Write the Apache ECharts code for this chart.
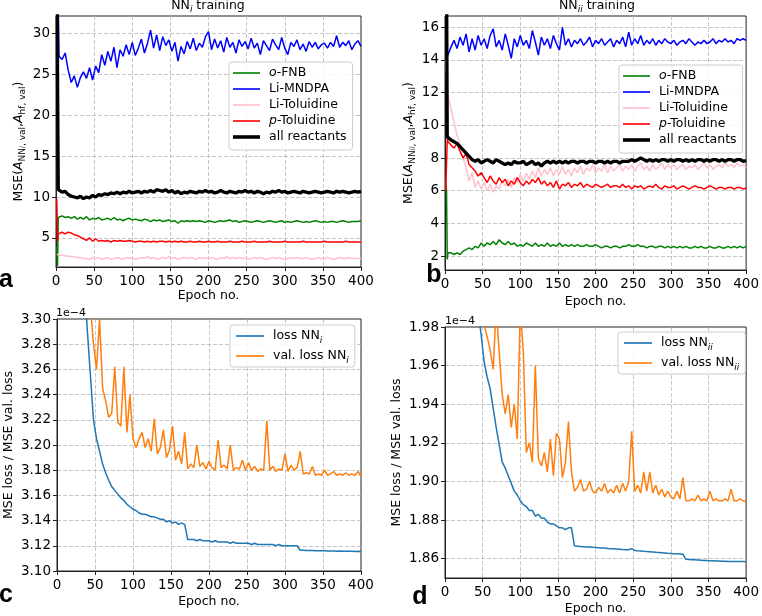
<!DOCTYPE html>
<html><head><meta charset="utf-8">
<script src="https://cdn.jsdelivr.net/npm/echarts@6/dist/echarts.min.js"></script>
<style>html,body{margin:0;padding:0;background:#fff}#c{width:762px;height:616px}</style>
</head><body><div id="c"></div>
<script>
// epochs: 1,2,3 then every 4th epoch up to 400
const epochs = [1, 2, 3];
for (let e = 4; e <= 400; e += 4) epochs.push(e);

// ---- panel a (NN_i training) ----
const aBlue = [60, 45, 33,
 27.2, 26.8, 27.6, 25.5, 24.0, 24.8, 23.4, 24.6, 25.3, 24.5,
 25.8, 24.3, 26.0, 25.2, 27.4, 26.1, 27.8, 26.6, 28.3, 25.8,
 28.0, 27.2, 28.6, 27.4, 28.9, 27.3, 28.2, 29.3, 27.6, 28.8,
 30.4, 28.2, 29.8, 27.9, 29.6, 28.5, 29.2, 27.8, 28.9, 26.6,
 28.4, 27.5, 29.0, 28.1, 29.4, 27.9, 28.8, 28.3, 29.6, 30.2,
 28.0, 29.3, 28.2, 29.1, 27.7, 29.5, 28.3, 28.9, 27.6, 29.2,
 28.4, 29.0, 28.1, 29.4, 28.2, 28.8, 27.4, 29.1, 28.5, 27.9,
 29.3, 28.6, 28.0, 29.5, 28.2, 27.4, 28.9, 28.4, 29.2, 28.0,
 28.7, 27.8, 29.0, 28.3, 28.9, 28.1, 28.6, 28.8, 28.2, 28.9,
 28.4, 29.7, 28.3, 28.9, 28.5, 29.1, 28.0, 28.7, 29.1, 28.4];
const aBlack = [60, 25, 10.9,
 10.9, 10.6, 10.7, 10.3, 10.1, 10.0, 9.9, 10.1, 9.8, 10.0,
 9.9, 10.2, 10.0, 10.3, 10.2, 10.4, 10.3, 10.5, 10.4, 10.6,
 10.4, 10.6, 10.5, 10.7, 10.5, 10.6, 10.7, 10.5, 10.7, 10.6,
 10.8, 10.6, 10.9, 10.8, 10.7, 10.9, 10.6, 10.8, 10.5, 10.7,
 10.4, 10.6, 10.5, 10.7, 10.6, 10.5, 10.7, 10.6, 10.8, 10.6,
 10.7, 10.5, 10.6, 10.8, 10.6, 10.5, 10.7, 10.6, 10.5, 10.7,
 10.6, 10.8, 10.6, 10.7, 10.5, 10.7, 10.6, 10.4, 10.6, 10.5,
 10.7, 10.6, 10.8, 10.6, 10.7, 10.5, 10.6, 10.7, 10.6, 10.5,
 10.7, 10.6, 10.5, 10.6, 10.7, 10.6, 10.5, 10.6, 10.7, 10.6,
 10.5, 10.7, 10.6, 10.7, 10.6, 10.5, 10.6, 10.7, 10.6, 10.7];
const aGreen = [4.0, 1.6, 7.5,
 7.6, 7.7, 7.5, 7.6, 7.4, 7.6, 7.3, 7.5, 7.3, 7.6,
 7.2, 7.4, 7.3, 7.5, 7.2, 7.3, 7.4, 7.2, 7.5, 7.2,
 7.3, 7.1, 7.3, 7.4, 7.2, 7.3, 7.2, 7.1, 7.3, 7.2,
 7.0, 7.2, 7.1, 7.2, 7.0, 7.1, 7.2, 7.0, 7.1, 6.8,
 7.1, 7.0, 7.1, 7.0, 7.1, 7.0, 7.1, 7.0, 6.9, 7.1,
 7.0, 6.9, 7.0, 7.1, 7.0, 7.1, 7.2, 7.0, 7.1, 6.9,
 7.0, 7.1, 7.0, 6.9, 7.0, 7.1, 7.0, 6.9, 7.0, 7.1,
 7.0, 6.9, 7.0, 7.1, 6.9, 7.0, 6.9, 7.0, 7.1, 7.0,
 6.9, 7.0, 6.9, 7.0, 7.1, 7.0, 6.9, 7.0, 6.9, 7.0,
 7.0, 6.9, 7.0, 7.1, 7.0, 6.9, 7.0, 7.0, 7.0, 7.1];
const aRed = [9.8, 4.6, 5.5,
 5.6, 5.7, 5.5, 5.7, 5.6, 5.4, 5.3, 5.1, 4.9, 4.7,
 5.0, 4.6, 4.9, 4.6, 4.7, 4.6, 4.7, 4.5, 4.7, 4.6,
 4.7, 4.6, 4.6, 4.7, 4.6, 4.5, 4.6, 4.6, 4.5, 4.6,
 4.5, 4.6, 4.5, 4.6, 4.6, 4.5, 4.6, 4.5, 4.6, 4.5,
 4.6, 4.5, 4.5, 4.6, 4.5, 4.5, 4.6, 4.5, 4.5, 4.6,
 4.5, 4.5, 4.6, 4.5, 4.5, 4.5, 4.6, 4.5, 4.5, 4.5,
 4.6, 4.5, 4.5, 4.5, 4.6, 4.5, 4.5, 4.5, 4.5, 4.6,
 4.5, 4.5, 4.5, 4.5, 4.6, 4.5, 4.5, 4.5, 4.5, 4.5,
 4.6, 4.5, 4.5, 4.5, 4.5, 4.5, 4.5, 4.6, 4.5, 4.5,
 4.5, 4.5, 4.5, 4.5, 4.6, 4.5, 4.5, 4.5, 4.5, 4.5];
const aPink = [3.0, 2.8, 2.9,
 2.9, 2.9, 2.8, 2.8, 2.7, 2.7, 2.6, 2.6, 2.5, 2.5,
 2.4, 2.6, 2.5, 2.6, 2.4, 2.5, 2.6, 2.4, 2.5, 2.6,
 2.5, 2.4, 2.6, 2.5, 2.6, 2.4, 2.5, 2.6, 2.5, 2.7,
 2.5, 2.6, 2.4, 2.5, 2.6, 2.5, 2.7, 2.5, 2.6, 2.4,
 2.5, 2.6, 2.5, 2.6, 2.5, 2.4, 2.6, 2.5, 2.6, 2.5,
 2.6, 2.5, 2.4, 2.6, 2.5, 2.7, 2.5, 2.6, 2.5, 2.6,
 2.5, 2.6, 2.4, 2.5, 2.6, 2.5, 2.6, 2.5, 2.4, 2.5,
 2.6, 2.5, 2.6, 2.5, 2.4, 2.5, 2.6, 2.5, 2.6, 2.5,
 2.5, 2.6, 2.5, 2.4, 2.5, 2.6, 2.5, 2.5, 2.6, 2.5,
 2.4, 2.5, 2.6, 2.5, 2.5, 2.6, 2.5, 2.5, 2.5, 2.5];

// ---- panel b (NN_ii training) ----
const bBlue = [30, 20, 14.2,
 14.3, 14.8, 15.2, 14.7, 15.4, 14.9, 15.6, 14.5, 15.3, 14.6,
 15.5, 14.9, 15.3, 14.7, 15.5, 15.9, 14.8, 15.2, 14.6, 15.6,
 14.9, 14.1, 15.3, 14.8, 15.5, 14.9, 15.2, 14.7, 15.8, 15.1,
 14.3, 15.4, 14.9, 15.3, 14.7, 15.5, 15.0, 14.6, 16.0, 14.9,
 15.3, 14.8, 15.2, 15.0, 15.3, 14.9, 15.1, 15.4, 14.8, 15.2,
 15.0, 15.3, 14.9, 15.1, 15.3, 14.8, 15.2, 15.0, 15.4, 14.8,
 15.7, 14.9, 15.3, 15.0, 15.5, 14.9, 15.2, 15.0, 15.3, 14.9,
 15.2, 15.0, 15.3, 15.1, 15.0, 15.2, 14.9, 15.1, 15.2, 15.0,
 15.3, 15.1, 14.9, 15.1, 15.0, 15.2, 15.0, 15.1, 15.3, 15.0,
 15.2, 15.1, 15.3, 15.1, 15.2, 15.0, 15.3, 15.2, 15.3, 15.2];
const bBlack = [30, 20, 9.3,
 9.3, 9.1, 9.0, 8.9, 8.7, 8.5, 8.3, 8.1, 7.9, 7.8,
 7.9, 7.7, 7.8, 7.9, 7.8, 7.7, 7.9, 7.8, 7.7, 7.6,
 7.7, 7.6, 7.8, 7.7, 7.7, 7.8, 7.6, 7.7, 7.8, 7.6,
 7.7, 7.5, 7.7, 7.8, 7.7, 7.8, 7.7, 7.8, 7.7, 7.8,
 7.7, 7.8, 7.8, 7.7, 7.8, 7.8, 7.7, 7.8, 7.8, 7.7,
 7.8, 7.8, 7.7, 7.8, 7.7, 7.8, 7.8, 7.7, 7.8, 7.8,
 7.8, 7.9, 7.8, 7.9, 8.0, 7.9, 7.8, 7.9, 7.8, 7.9,
 7.8, 7.9, 7.9, 7.8, 7.9, 7.8, 7.9, 7.9, 7.8, 7.9,
 7.8, 7.9, 7.8, 7.9, 7.9, 7.8, 7.9, 7.8, 7.9, 7.9,
 7.8, 7.9, 7.8, 7.9, 7.9, 7.8, 7.9, 7.9, 7.8, 7.85];
const bRed = [6.0, 6.1, 9.2,
 9.0, 8.8, 8.6, 8.9, 8.4, 8.0, 8.3, 7.6, 7.4, 7.2,
 6.9, 7.1, 6.8, 6.5, 6.9, 6.6, 6.4, 6.8, 6.5, 6.7,
 6.3, 6.6, 6.4, 6.8, 6.5, 6.3, 6.6, 6.4, 6.7, 6.5,
 6.8, 6.4, 6.6, 6.3, 6.5, 6.2, 6.6, 6.1, 6.4, 6.3,
 6.5, 6.2, 6.4, 6.3, 6.5, 6.2, 6.4, 6.3, 6.2, 6.4,
 6.3, 6.2, 6.3, 6.4, 6.2, 6.3, 6.3, 6.2, 6.4, 6.2,
 6.3, 6.1, 6.3, 6.2, 6.3, 6.1, 6.2, 6.3, 6.2, 6.4,
 6.2, 6.1, 6.3, 6.2, 6.2, 6.3, 6.1, 6.2, 6.3, 6.2,
 6.1, 6.2, 6.3, 6.2, 6.2, 6.1, 6.2, 6.3, 6.2, 6.1,
 6.2, 6.2, 6.1, 6.2, 6.2, 6.1, 6.2, 6.2, 6.1, 6.15];
const bPink = [14, 13, 12.2,
 11.8, 11.0, 10.2, 9.4, 8.8, 8.0, 7.4, 6.6, 7.1, 6.2,
 6.6, 6.1, 6.5, 6.0, 6.4, 5.9, 6.3, 6.1, 6.6, 6.3,
 6.7, 6.2, 6.8, 6.5, 7.0, 6.6, 7.1, 6.7, 7.2, 6.8,
 7.4, 6.9, 7.3, 7.0, 7.4, 6.9, 7.3, 7.0, 7.5, 7.0,
 7.3, 6.9, 7.4, 7.1, 7.5, 7.0, 7.4, 7.2, 7.6, 7.1,
 7.4, 7.2, 7.6, 7.1, 7.5, 7.2, 7.4, 7.6, 7.2, 7.5,
 7.3, 7.6, 7.2, 7.5, 7.7, 7.3, 7.5, 7.2, 7.6, 7.3,
 7.5, 7.7, 7.3, 7.6, 7.4, 7.6, 7.3, 7.5, 7.6, 7.3,
 7.5, 7.4, 7.6, 7.3, 7.5, 7.7, 7.4, 7.6, 7.3, 7.5,
 7.6, 7.4, 7.7, 7.5, 7.6, 7.4, 7.7, 7.5, 7.6, 7.4];
const bGreen = [6.5, 6.0, 1.8,
 2.2, 2.2, 2.1, 2.2, 2.1, 2.3, 2.4, 2.5, 2.4, 2.6,
 2.5, 2.8, 2.6, 2.8, 2.7, 2.9, 2.7, 3.0, 2.8, 2.7,
 2.9, 2.7, 2.8, 2.6, 2.7, 2.6, 2.8, 2.7, 2.6, 2.8,
 2.6, 2.7, 2.6, 2.8, 2.6, 2.7, 2.6, 2.8, 2.6, 2.7,
 2.6, 2.7, 2.6, 2.7, 2.6, 2.6, 2.7, 2.6, 2.6, 2.7,
 2.6, 2.5, 2.6, 2.6, 2.5, 2.6, 2.6, 2.5, 2.6, 2.6,
 2.7, 2.6, 2.6, 2.7, 2.6, 2.6, 2.5, 2.6, 2.6, 2.5,
 2.6, 2.6, 2.5, 2.6, 2.5, 2.6, 2.5, 2.6, 2.5, 2.6,
 2.5, 2.5, 2.6, 2.5, 2.6, 2.5, 2.5, 2.6, 2.5, 2.5,
 2.6, 2.5, 2.5, 2.6, 2.5, 2.6, 2.5, 2.6, 2.5, 2.6];

// ---- panel c (loss NN_i, units of 1e-4) ----
const cLoss = [6.0, 5.5, 5.2,
 5.0, 4.2, 3.9, 3.7, 3.58, 3.5, 3.43, 3.38, 3.33, 3.29,
 3.255, 3.22, 3.205, 3.195, 3.185, 3.178, 3.172, 3.167, 3.164, 3.161,
 3.158, 3.156, 3.153, 3.151, 3.149, 3.148, 3.146, 3.145, 3.145, 3.144,
 3.143, 3.143, 3.142, 3.141, 3.141, 3.139, 3.140, 3.138, 3.139, 3.137,
 3.138, 3.137, 3.125, 3.125, 3.125, 3.124, 3.125, 3.124, 3.124, 3.124,
 3.123, 3.124, 3.123, 3.123, 3.123, 3.123, 3.122, 3.123, 3.122, 3.122,
 3.122, 3.122, 3.122, 3.121, 3.122, 3.121, 3.121, 3.121, 3.121, 3.121,
 3.121, 3.120, 3.121, 3.120, 3.120, 3.120, 3.120, 3.120, 3.120, 3.1165,
 3.1165, 3.1163, 3.1162, 3.1162, 3.116, 3.116, 3.1161, 3.116, 3.1159, 3.1158,
 3.1158, 3.1157, 3.1158, 3.1157, 3.1156, 3.1157, 3.1156, 3.1155, 3.1156, 3.1155];
const cVal = [6.5, 6.0, 5.6,
 5.3, 4.6, 4.2, 3.95, 3.8, 3.68, 3.58, 3.5, 3.42, 3.36,
 3.31, 3.28, 3.26, 3.30, 3.245, 3.235, 3.222, 3.225, 3.262, 3.218,
 3.215, 3.262, 3.21, 3.24, 3.205, 3.198, 3.205, 3.21, 3.198, 3.205,
 3.195, 3.221, 3.193, 3.198, 3.212, 3.19, 3.196, 3.215, 3.188, 3.195,
 3.185, 3.21, 3.181, 3.185, 3.182, 3.20, 3.183, 3.186, 3.181, 3.187,
 3.182, 3.180, 3.204, 3.182, 3.184, 3.181, 3.20, 3.180, 3.182, 3.181,
 3.188, 3.180, 3.186, 3.180, 3.183, 3.179, 3.181, 3.180, 3.219, 3.180,
 3.183, 3.179, 3.181, 3.180, 3.193, 3.179, 3.184, 3.180, 3.182, 3.195,
 3.177, 3.178, 3.177, 3.183, 3.176, 3.177, 3.176, 3.180, 3.176, 3.177,
 3.179, 3.176, 3.177, 3.176, 3.178, 3.176, 3.177, 3.176, 3.179, 3.175];

// ---- panel d (loss NN_ii, units of 1e-4) ----
const dLoss = [3.0, 2.8, 2.6,
 2.5, 2.3, 2.2, 2.15, 2.1, 2.07, 2.05, 2.03, 2.01, 1.998,
 1.988, 1.976, 1.962, 1.954, 1.948, 1.938, 1.928, 1.919, 1.91, 1.907,
 1.903, 1.899, 1.895, 1.893, 1.89, 1.888, 1.887, 1.885, 1.885, 1.882,
 1.883, 1.881, 1.881, 1.879, 1.878, 1.878, 1.877, 1.876, 1.876, 1.875,
 1.876, 1.876, 1.8667, 1.8665, 1.8663, 1.8662, 1.866, 1.8661, 1.8659, 1.8658,
 1.8657, 1.8656, 1.8655, 1.8653, 1.8652, 1.8651, 1.865, 1.8649, 1.8647, 1.8646,
 1.8646, 1.8652, 1.8643, 1.8641, 1.864, 1.8638, 1.8637, 1.8636, 1.8635, 1.8633,
 1.8632, 1.8631, 1.863, 1.8628, 1.8627, 1.8626, 1.8625, 1.8624, 1.8623, 1.8597,
 1.8596, 1.8595, 1.8594, 1.8593, 1.8592, 1.8591, 1.859, 1.8589, 1.8589, 1.8588,
 1.8588, 1.8587, 1.8587, 1.8586, 1.8586, 1.8586, 1.8585, 1.8585, 1.8585, 1.8584];
const dVal = [3.2, 3.0, 2.8,
 2.6, 2.45, 2.35, 2.28, 2.2, 2.15, 2.1, 2.07, 2.04, 2.02,
 2.0, 1.99, 1.981, 1.975, 1.968, 1.958, 1.99, 1.967, 1.945, 1.935,
 1.945, 1.928, 1.94, 1.922, 1.99, 1.967, 1.915, 1.92, 1.91, 1.96,
 1.912, 1.908, 1.915, 1.905, 1.922, 1.903, 1.925, 1.922, 1.902, 1.91,
 1.931, 1.905, 1.895, 1.897, 1.901, 1.895, 1.896, 1.90, 1.895, 1.894,
 1.897, 1.895, 1.899, 1.894, 1.896, 1.894, 1.898, 1.894, 1.899, 1.895,
 1.900, 1.926, 1.895, 1.898, 1.894, 1.905, 1.895, 1.905, 1.894, 1.898,
 1.893, 1.896, 1.892, 1.895, 1.892, 1.891, 1.895, 1.891, 1.902, 1.890,
 1.890, 1.891, 1.890, 1.893, 1.890, 1.891, 1.890, 1.895, 1.890, 1.891,
 1.890, 1.890, 1.891, 1.890, 1.896, 1.890, 1.890, 1.891, 1.890, 1.8895];

const namesAB = ['o-FNB', 'Li-MNDPA', 'Li-Toluidine', 'p-Toluidine', 'all reactants'];
const colorsAB = ['#008000', '#0000ff', '#ffc0cb', '#ff0000', '#000000'];

const FF = 'DejaVu Sans';
const FS = 12.5;
const TFS = 13.5;

function pairs(x, y) { return x.map((e, i) => [e, y[i]]); }

function xAx(g, gap) {
  return {
    type: 'value', gridIndex: g, min: 0, max: 400, interval: 50,
    name: 'Epoch no.', nameLocation: 'middle', nameGap: gap,
    nameTextStyle: { fontFamily: FF, fontSize: FS, color: '#000' },
    axisLine: { show: true, onZero: false, lineStyle: { color: '#222', width: 1 } },
    axisTick: { show: true, length: 4, lineStyle: { color: '#222' } },
    axisLabel: { fontFamily: FF, fontSize: TFS, color: '#000', margin: 7 },
    splitLine: { show: true, showMinLine: false, showMaxLine: false,
      lineStyle: { color: '#b8b8b8', type: [4, 2], width: 0.8 } }
  };
}
const nameRich = {
  it: { fontFamily: FF, fontSize: FS, fontStyle: 'italic', lineHeight: 16, color: '#000' },
  sb: { fontFamily: FF, fontSize: 9, lineHeight: 9, verticalAlign: 'bottom', color: '#000' },
  si: { fontFamily: FF, fontSize: 7, lineHeight: 7, verticalAlign: 'bottom', fontStyle: 'italic', color: '#000' }
};
function yAx(g, o) {
  return Object.assign({
    type: 'value', gridIndex: g,
    nameLocation: 'middle', nameRotate: 90,
    nameTextStyle: { fontFamily: FF, fontSize: FS, color: '#000', lineHeight: 16, rich: nameRich },
    axisLine: { show: true, onZero: false, lineStyle: { color: '#222', width: 1 } },
    axisTick: { show: true, length: 4, lineStyle: { color: '#222' } },
    axisLabel: { fontFamily: FF, fontSize: TFS, color: '#000', margin: 6, showMinLabel: false, showMaxLabel: false },
    splitLine: { show: true, showMinLine: false, showMaxLine: false,
      lineStyle: { color: '#b8b8b8', type: [4, 2], width: 0.8 } }
  }, o);
}
function gridBox(l, t, w, h) {
  return { left: l, top: t, width: w, height: h, containLabel: false, show: true, borderColor: '#222', borderWidth: 1 };
}

const thin = 'path://M0,0H27V1.6H0Z';
const thick = 'path://M0,0H27V3.6H0Z';
const legRichAB = { i: { fontFamily: FF, fontSize: FS, fontStyle: 'italic', lineHeight: 16, color: '#000' } };
function legAB(l, t) {
  return {
    orient: 'vertical', left: l, top: t, itemWidth: 27, itemHeight: 8, itemGap: 0,
    symbolKeepAspect: true, selectedMode: false,
    padding: [3, 6, 5, 4], backgroundColor: 'rgba(255,255,255,0.85)',
    borderColor: '#cccccc', borderWidth: 1, borderRadius: 3,
    textStyle: { fontFamily: FF, fontSize: FS, color: '#000', lineHeight: 16, padding: [0, 0, 0, 4], rich: legRichAB },
    formatter: n => n === 'o-FNB' ? '{i|o}-FNB' : (n === 'p-Toluidine' ? '{i|p}-Toluidine' : n),
    data: namesAB.map((n, i) => ({ name: n, icon: i === 4 ? thick : thin, itemStyle: { color: colorsAB[i] } }))
  };
}
const legRichCD = { s: { fontFamily: FF, fontSize: 9, fontStyle: 'italic', lineHeight: 10, verticalAlign: 'bottom', color: '#000' } };
function legCD(l, t, names, sub) {
  return {
    orient: 'vertical', left: l, top: t, itemWidth: 28, itemHeight: 8, itemGap: 2,
    symbolKeepAspect: true, selectedMode: false,
    padding: [2, 6, 2, 6], backgroundColor: 'rgba(255,255,255,0.85)',
    borderColor: '#cccccc', borderWidth: 1, borderRadius: 3,
    textStyle: { fontFamily: FF, fontSize: FS, color: '#000', lineHeight: 18, padding: [0, 0, 0, 4], rich: legRichCD },
    formatter: n => n.replace(/NNi+$/, 'NN{s|' + sub + '}'),
    data: names.map((n, i) => ({ name: n, icon: thin, itemStyle: { color: i === 0 ? '#1f77b4' : '#ff7f0e' } }))
  };
}

const series = [];
const aY = [aGreen, aBlue, aPink, aRed, aBlack];
const bY = [bGreen, bBlue, bPink, bRed, bBlack];
aY.forEach((arr, i) => series.push({
  type: 'line', name: namesAB[i], xAxisIndex: 0, yAxisIndex: 0, data: pairs(epochs, arr),
  showSymbol: false, symbol: 'none', clip: true,
  lineStyle: { color: colorsAB[i], width: i === 4 ? 3.3 : 1.5 }, itemStyle: { color: colorsAB[i] }
}));
bY.forEach((arr, i) => series.push({
  type: 'line', name: namesAB[i], xAxisIndex: 1, yAxisIndex: 1, data: pairs(epochs, arr),
  showSymbol: false, symbol: 'none', clip: true,
  lineStyle: { color: colorsAB[i], width: i === 4 ? 3.3 : 1.5 }, itemStyle: { color: colorsAB[i] }
}));
[[cLoss, 'loss NNi', '#1f77b4', 2], [cVal, 'val. loss NNi', '#ff7f0e', 2],
 [dLoss, 'loss NNii', '#1f77b4', 3], [dVal, 'val. loss NNii', '#ff7f0e', 3]].forEach(s => series.push({
  type: 'line', name: s[1], xAxisIndex: s[3], yAxisIndex: s[3], data: pairs(epochs, s[0]),
  showSymbol: false, symbol: 'none', clip: true,
  lineStyle: { color: s[2], width: 1.5 }, itemStyle: { color: s[2] }
}));

const titleRich = {
  n: { fontFamily: FF, fontSize: FS, lineHeight: 16, fill: '#000' },
  s: { fontFamily: FF, fontSize: 9, lineHeight: 9, verticalAlign: 'bottom', fontStyle: 'italic', fill: '#000' }
};
function txt(x, y, text, font, align) {
  return { type: 'text', x: x, y: y, z: 100, style: { text: text, font: font, fill: '#000', align: align || 'center', verticalAlign: 'middle' } };
}

const option = {
  animation: false,
  grid: [gridBox(56, 16, 305, 251), gridBox(445, 16, 304, 254), gridBox(56, 319, 305, 252), gridBox(445, 327, 304, 251)],
  xAxis: [xAx(0, 22), xAx(1, 25), xAx(2, 24), xAx(3, 24)],
  yAxis: [
    yAx(0, { min: 1.45, max: 32.12, splitNumber: 5, nameGap: 29,
      name: 'MSE({it|A}{sb|NN}{si|i}{sb|, val},{it|A}{sb|hf, val})' }),
    yAx(1, { min: 1.15, max: 16.69, splitNumber: 7, nameGap: 28,
      name: 'MSE({it|A}{sb|NN}{si|ii}{sb|, val},{it|A}{sb|hf, val})' }),
    yAx(2, { min: 3.10, max: 3.30, interval: 0.02, nameGap: 40, name: 'MSE loss / MSE val. loss',
      axisLabel: { fontFamily: FF, fontSize: TFS, color: '#000', margin: 6, formatter: v => v.toFixed(2) } }),
    yAx(3, { min: 1.85, max: 1.98, splitNumber: 6, nameGap: 40, name: 'MSE loss / MSE val. loss',
      axisLabel: { fontFamily: FF, fontSize: TFS, color: '#000', margin: 6, showMinLabel: false, formatter: v => v.toFixed(2) } })
  ],
  legend: [
    legAB(229, 62), legAB(619, 65),
    legCD(230, 325, ['loss NNi', 'val. loss NNi'], 'i'),
    legCD(618, 332, ['loss NNii', 'val. loss NNii'], 'ii')
  ],
  series: series,
  graphic: [
    { type: 'text', x: 208, y: 6, z: 100, style: { text: '{n|NN}{s|i}{n| training}', rich: titleRich, align: 'center', verticalAlign: 'middle' } },
    { type: 'text', x: 597, y: 6, z: 100, style: { text: '{n|NN}{s|ii}{n| training}', rich: titleRich, align: 'center', verticalAlign: 'middle' } },
    txt(6, 280, 'a', 'bold 25px "Liberation Sans"'),
    txt(434, 275, 'b', 'bold 25px "Liberation Sans"'),
    txt(6, 595, 'c', 'bold 25px "Liberation Sans"'),
    txt(420, 597, 'd', 'bold 25px "Liberation Sans"'),
    txt(56, 313, '1e\u22124', '11px "DejaVu Sans"', 'left'),
    txt(445, 321, '1e\u22124', '11px "DejaVu Sans"', 'left')
  ]
};
echarts.init(document.getElementById('c')).setOption(option);
</script></body></html>
